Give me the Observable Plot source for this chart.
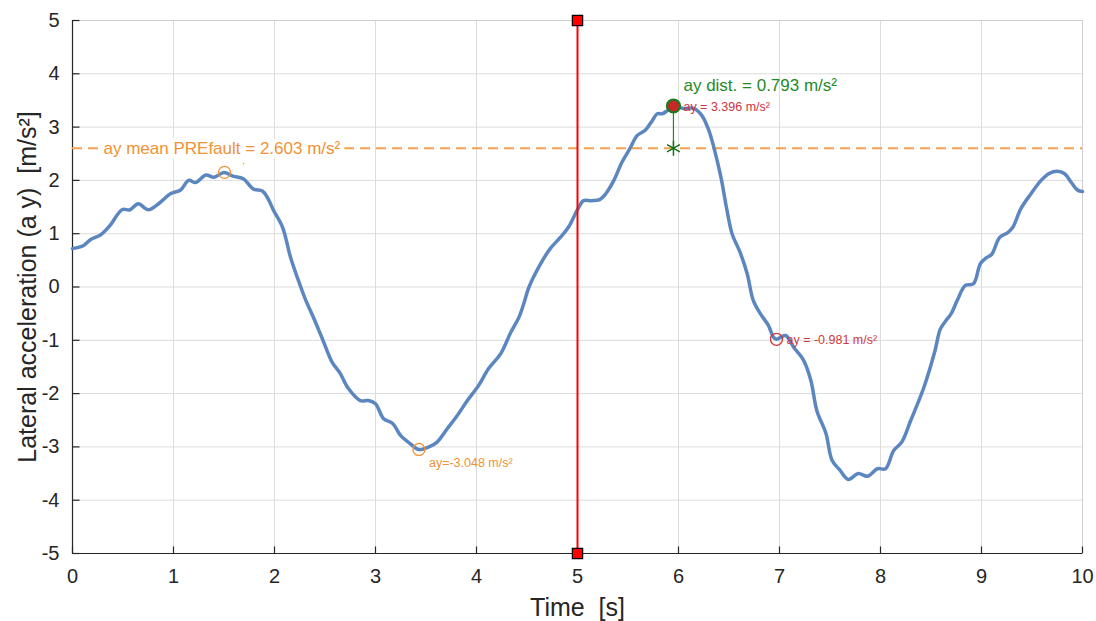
<!DOCTYPE html>
<html>
<head>
<meta charset="utf-8">
<script src="https://cdn.jsdelivr.net/npm/d3@7"></script>
<script src="https://cdn.jsdelivr.net/npm/@observablehq/plot@0.6"></script>
<style>
  html, body { margin: 0; padding: 0; background: #fff; }
  svg { font-family: "Liberation Sans", Arial, sans-serif; }
</style>
</head>
<body>
<div id="chart"></div>
<script>
// Signal: time [s] and lateral acceleration ay [m/s²]
const time = [0.00,0.11,0.18,0.28,0.37,0.49,0.57,0.65,0.75,0.87,0.97,1.07,1.15,1.22,1.32,1.40,1.50,1.59,1.69,1.79,1.88,1.93,1.99,2.08,2.16,2.26,2.31,2.39,2.48,2.57,2.65,2.73,2.85,2.93,3.00,3.08,3.17,3.25,3.35,3.43,3.54,3.61,3.71,3.81,3.91,4.02,4.12,4.24,4.34,4.42,4.47,4.52,4.63,4.73,4.83,4.91,5.00,5.06,5.14,5.22,5.28,5.36,5.44,5.52,5.59,5.67,5.74,5.79,5.84,5.89,5.95,6.05,6.15,6.23,6.30,6.35,6.42,6.48,6.53,6.61,6.68,6.74,6.81,6.89,6.94,6.97,7.06,7.14,7.24,7.31,7.37,7.46,7.52,7.60,7.68,7.78,7.87,7.97,8.05,8.13,8.21,8.30,8.43,8.54,8.59,8.64,8.70,8.76,8.84,8.92,8.99,9.05,9.10,9.18,9.26,9.31,9.39,9.49,9.59,9.67,9.75,9.82,9.89,9.95,10.00];
const ay = [0.72,0.78,0.89,0.98,1.15,1.45,1.45,1.56,1.45,1.59,1.75,1.82,2.00,1.96,2.10,2.06,2.15,2.08,2.03,1.84,1.80,1.68,1.44,1.12,0.55,0.00,-0.25,-0.59,-1.00,-1.41,-1.62,-1.90,-2.13,-2.13,-2.19,-2.47,-2.56,-2.79,-2.95,-3.05,-2.99,-2.91,-2.66,-2.41,-2.13,-1.85,-1.53,-1.25,-0.85,-0.57,-0.30,0.00,0.42,0.72,0.93,1.12,1.45,1.62,1.62,1.64,1.75,2.00,2.34,2.60,2.84,2.94,3.12,3.25,3.25,3.31,3.40,3.35,3.35,3.22,2.94,2.62,2.06,1.44,1.00,0.65,0.25,-0.25,-0.50,-0.72,-0.94,-0.98,-0.91,-1.13,-1.38,-1.75,-2.32,-2.75,-3.25,-3.44,-3.61,-3.50,-3.55,-3.41,-3.41,-3.07,-2.91,-2.50,-1.88,-1.19,-0.80,-0.65,-0.50,-0.25,0.03,0.06,0.44,0.55,0.61,0.93,1.02,1.12,1.47,1.75,2.00,2.13,2.17,2.13,1.96,1.82,1.79];

// Annotations
const faultTime = 5;
const meanPre = 2.603;
const meanLabel = "ay mean PREfault = 2.603 m/s²";
const preMax = {t: 1.505, v: 2.15};
const preMin = {t: 3.43, v: -3.048, label: "ay=-3.048 m/s²"};
const postMax = {t: 5.95, v: 3.396, label: "ay = 3.396 m/s²"};
const distLabel = "ay dist. = 0.793 m/s²";
const postPt = {t: 6.97, v: -0.981, label: "ay = -0.981 m/s²"};

const xTicks = [0,1,2,3,4,5,6,7,8,9,10];
const yTicks = [-5,-4,-3,-2,-1,0,1,2,3,4,5];
const xLabel = "Time\u00a0\u00a0[s]";
const yLabel = "Lateral acceleration (a y)\u00a0\u00a0[m/s²]";

const series = time.map((t, i) => ({t, v: ay[i]}));

const orange = "#ef9233";
const orangeLine = "#f2a152";
const green = "#1f8a1f";
const red = "#d03a3a";
const axisCol = "#262626";

// inward tick symbols
const tickUp = {draw(ctx) { ctx.moveTo(0, 0); ctx.lineTo(0, -7); }};
const tickRight = {draw(ctx) { ctx.moveTo(0, 0); ctx.lineTo(7, 0); }};

const plot = Plot.plot({
  width: 1096,
  height: 621,
  marginLeft: 72,
  marginRight: 14,
  marginTop: 20,
  marginBottom: 68,
  style: {fontFamily: "'Liberation Sans', Arial, sans-serif", fontSize: "20px", color: axisCol, background: "#fff"},
  x: {domain: [0, 10], ticks: xTicks},
  y: {domain: [-5, 5], ticks: yTicks},
  marks: [
    Plot.gridX(xTicks, {stroke: "#dcdcdc", strokeOpacity: 1}),
    Plot.gridY(yTicks, {stroke: "#dcdcdc", strokeOpacity: 1}),
    Plot.ruleY([5], {stroke: "#cfcfcf"}),
    Plot.ruleX([10], {stroke: "#cfcfcf"}),
    Plot.axisX(xTicks, {tickSize: 0, tickPadding: 15, fill: axisCol, fontSize: 20, tickFormat: d => String(d), label: null}),
    Plot.axisY(yTicks, {tickSize: 0, tickPadding: 13, fill: axisCol, fontSize: 20, tickFormat: d => String(d), label: null}),
    Plot.dot(xTicks, {x: d => d, y: () => -5, symbol: tickUp, r: 7, stroke: axisCol, strokeWidth: 1.2, fill: "none"}),
    Plot.dot(yTicks, {x: () => 0, y: d => d, symbol: tickRight, r: 7, stroke: axisCol, strokeWidth: 1.2, fill: "none"}),
    Plot.text([xLabel], {frameAnchor: "bottom", textAnchor: "middle", dy: 54, fill: axisCol, fontSize: 25, lineAnchor: "middle"}),
    Plot.text([yLabel], {frameAnchor: "left", textAnchor: "middle", dx: -45, dy: 0, rotate: -90, fill: axisCol, fontSize: 25, lineAnchor: "middle"}),
    Plot.ruleX([0], {stroke: axisCol, strokeWidth: 1.2}),
    Plot.ruleY([-5], {stroke: axisCol, strokeWidth: 1.2}),
    // mean prefault dashed line
    Plot.ruleY([meanPre], {stroke: orangeLine, strokeWidth: 1.8, strokeDasharray: "10,6"}),
    Plot.text([meanLabel], {x: 0, y: meanPre, dx: 31, textAnchor: "start", fill: orange, fontSize: 17,
      stroke: "white", strokeWidth: 9, paintOrder: "stroke"}),
    // signal
    Plot.line(series, {x: "t", y: "v", stroke: "#5b86bf", strokeWidth: 3.5, curve: "catmull-rom"}),
    // fault time line
    Plot.ruleX([faultTime], {y1: -5, y2: 5, stroke: "#ff0000", strokeWidth: 2}),
    Plot.dot([-5, 5], {x: () => faultTime, y: d => d, symbol: "square", r: 5.8, fill: "#ff0000", stroke: "#000", strokeWidth: 1.2}),
    // pre-fault extrema
    Plot.dot([preMax], {x: "t", y: "v", r: 6, stroke: orange, strokeWidth: 1.3, fill: "none"}),
    Plot.text([preMax], {x: "t", y: "v", text: () => "·", dx: 19, dy: -9, fill: orange, fontSize: 12}),
    Plot.dot([preMin], {x: "t", y: "v", r: 6, stroke: orange, strokeWidth: 1.3, fill: "none"}),
    Plot.text([preMin], {x: "t", y: "v", text: "label", dx: 10, dy: 14, textAnchor: "start", fill: orange, fontSize: 12.5}),
    // post-fault max and distance
    Plot.ruleX([postMax], {x: "t", y1: () => meanPre, y2: "v", stroke: green, strokeWidth: 1.2}),
    Plot.dot([postMax], {x: () => postMax.t, y: () => meanPre, symbol: "asterisk", r: 7, stroke: "#16701a", strokeWidth: 1.5}),
    Plot.dot([postMax], {x: "t", y: "v", r: 6.5, fill: "#c62828", stroke: "#1d7a1d", strokeWidth: 2.2}),
    Plot.text([postMax], {x: "t", y: "v", text: "label", dx: 10, dy: 1, textAnchor: "start", fill: "#cc3344", fontSize: 12.5}),
    Plot.text([postMax], {x: "t", y: "v", text: () => distLabel, dx: 10, dy: -20, textAnchor: "start", fill: green, fontSize: 17}),
    // post-fault point
    Plot.dot([postPt], {x: "t", y: "v", r: 6, stroke: red, strokeWidth: 1.3, fill: "none"}),
    Plot.text([postPt], {x: "t", y: "v", text: "label", dx: 10, dy: 1, textAnchor: "start", fill: red, fontSize: 12.5})
  ]
});
document.getElementById("chart").appendChild(plot);
</script>
</body>
</html>
